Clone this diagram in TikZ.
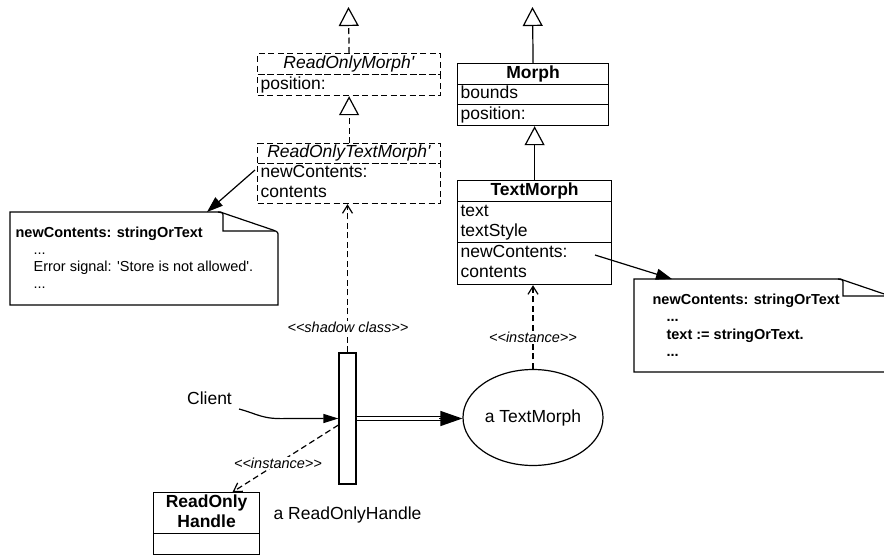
\documentclass[tikz,border=0pt]{standalone}
\usepackage{fontspec}
\setmainfont{Liberation Sans}[Ligatures=TeXOff]
\usetikzlibrary{arrows.meta,shapes.geometric,calc}
\newcommand\mainfs{\fontsize{17.5}{20}\selectfont}
\newcommand\notefs{\fontsize{14.5}{17}\selectfont}
\begin{document}
\begin{tikzpicture}[x=1pt,y=-1pt,line width=1.2pt,
  comp/.style={draw, anchor=north west, inner xsep=3pt, inner ysep=0pt, font=\mainfs, align=left},
  dpat/.style={dash pattern=on 6pt off 3.5pt},
  gen/.style={-{Triangle[open,length=19pt,width=20pt]}},
  inst/.style={-{Straight Barb[length=8pt,width=10pt]}},
  notearrow/.style={-{Triangle[length=16pt,width=11pt]}},
  stereo/.style={font=\fontsize{14.5}{17}\selectfont\itshape, fill=white, inner xsep=1pt, inner ysep=1pt},
  notetext/.style={font=\notefs, anchor=base west, inner sep=0pt},
  lbl/.style={font=\mainfs, inner sep=0pt}]
\useasboundingbox (0,0) rectangle (884,555);
\clip (0,0) rectangle (884,555);

% ReadOnlyMorph'
\node[comp, dpat, align=center, text width=177pt, minimum height=21pt] (romh) at (257,53) {\strut\textit{ReadOnlyMorph'}};
\node[comp, dpat, text width=177pt, minimum height=21pt] (romb) at (257,74) {\strut position:};
% ReadOnlyTextMorph'
\node[comp, dpat, align=center, text width=177pt, minimum height=20pt] (rotmh) at (257,143) {\strut\textit{ReadOnlyTextMorph'}};
\node[comp, dpat, text width=177pt, minimum height=39pt] (rotmb) at (257,163) {\strut newContents:\\\strut contents};

% Morph
\node[comp, align=center, text width=145pt, minimum height=21pt, font=\mainfs\bfseries] (morphh) at (457,63) {\strut Morph};
\node[comp, text width=145pt, minimum height=20pt] (morpha) at (457,84) {\strut bounds};
\node[comp, text width=145pt, minimum height=21pt] (morphb) at (457,104) {\strut position:};
% TextMorph
\node[comp, align=center, text width=148pt, minimum height=21pt, font=\mainfs\bfseries] (tmh) at (457,180) {\strut TextMorph};
\node[comp, text width=148pt, minimum height=41pt] (tma) at (457,201) {\strut text\\\strut textStyle};
\node[comp, text width=148pt, minimum height=42pt] (tmb) at (457,242) {\strut newContents:\\\strut contents};

% generalization arrows
\coordinate (romtop) at (348.5,7);
\coordinate (morphtop) at (532.5,7);
\draw[dpat, gen] (romh.north) -- (romtop);
\draw[dpat, gen] (rotmh.north) -- (romb.south);
\draw[gen] (morphh.north) -- (morphtop);
\draw[gen] (tmh.north) -- (tmh.north |- morphb.south);

% notes
\node[minimum width=268pt, minimum height=93pt, inner sep=0pt, anchor=north west] (note1) at (10,212) {};
\draw (10,212) -- (218,212) .. controls (221,212) .. (223,213) -- (273,230) .. controls (278,232) .. (278,236) -- (278,305) -- (10,305) -- cycle;
\draw (218,212) .. controls (223,212) .. (223,218) -- (223,231) -- (275,231);
\node[notetext, font=\notefs\bfseries] (n1a) at (15,237) {newContents: stringOrText};
\node[notetext] (n1b) at (33,254) {...};
\node[notetext] (n1c) at (33,271) {Error signal: 'Store is not allowed'.};
\node[notetext] (n1d) at (33,288) {...};

\node[minimum width=264pt, minimum height=93pt, inner sep=0pt, anchor=north west] (note2) at (634,279) {};
\draw (634,279) -- (838,279) .. controls (841,279) .. (843,280) -- (893,297) .. controls (898,299) .. (898,303) -- (898,372) -- (634,372) -- cycle;
\draw (838,279) .. controls (843,279) .. (843,285) -- (843,296) -- (895,296);
\node[notetext, font=\notefs\bfseries] (n2a) at (652,304) {newContents: stringOrText};
\node[notetext, font=\notefs\bfseries] (n2b) at (666,321) {...};
\node[notetext, font=\notefs\bfseries] (n2c) at (666,339) {text := stringOrText.};
\node[notetext, font=\notefs\bfseries] (n2d) at (666,356) {...};

\draw[notearrow] ($(rotmb.north west)+(-2,7)$) -- ($(note1.north west)+(197,0)$);
\draw[notearrow] ($(tmb.north west)+(138,13)$) -- ($(note2.north west)+(38,0)$);

% lifeline and object
\node[draw, minimum width=17pt, minimum height=131pt, inner sep=0pt] (life) at (347.5,418.5) {};
\node[draw, ellipse, minimum width=140pt, minimum height=96pt, inner sep=0pt, font=\mainfs] (obj) at (533,417.5) {a TextMorph};

\draw[dpat, inst] (life.north) -- (life.north |- rotmb.south);
\node[stereo] (lshadow) at (348,327) {<<shadow class>>};
\draw[dpat, inst] (obj.north) -- (obj.north |- tmb.south);
\node[stereo] (linst1) at (533,337) {<<instance>>};

% client
\node[lbl] (client) at (209.5,398) {Client};
\coordinate (cs) at (239,409);
\draw[-{Triangle[length=15pt,width=9pt]}] (cs) .. controls (258,414) and (262,419.5) .. (287,418.5) -- (life.west);

% double arrow
\coordinate (dtip) at (life.east -| obj.west);
\draw[double, double distance=2.5pt, line width=1pt] (life.east) -- ($(dtip)+(-20,0)$);
\draw[-{Triangle[length=22pt,width=15pt]}] ($(dtip)+(-23,0)$) -- (dtip);

% ReadOnlyHandle
\node[comp, align=center, text width=100pt, minimum height=41pt, font=\mainfs\bfseries] (rohh) at (153,492) {\strut ReadOnly\\\strut Handle};
\node[comp, text width=100pt, minimum height=21pt] (rohb) at (153,533) {};
\draw[dpat, inst] ($(life.west)+(0,6.5)$) -- ($(rohh.north)+(26,0)$);
\node[stereo] (linst2) at (278,463) {<<instance>>};
\node[lbl, anchor=west] (rohlabel) at (273,515) {a ReadOnlyHandle};
\end{tikzpicture}
\end{document}
